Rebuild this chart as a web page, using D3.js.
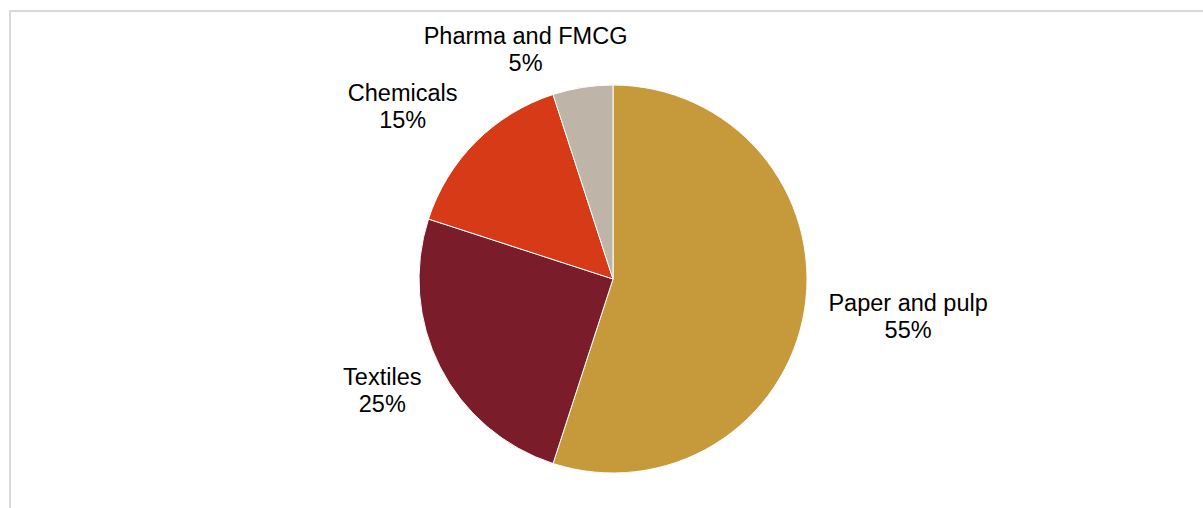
<!DOCTYPE html>
<html>
<head>
<meta charset="utf-8">
<script src="https://cdnjs.cloudflare.com/ajax/libs/d3/7.8.5/d3.min.js"></script>
<style>
  html, body { margin: 0; padding: 0; background: #fff; }
  svg { display: block; }
  text { font-family: "Liberation Sans", Arial, sans-serif; }
</style>
</head>
<body>
<script>
const categories = ["Paper and pulp", "Textiles", "Chemicals", "Pharma and FMCG"];
const values = [55, 25, 15, 5];
const colors = ["#C69A3B", "#7B1C2A", "#D63A16", "#BEB5A8"];

const W = 1203, H = 508;
const cx = 613, cy = 279, r = 194;

const svg = d3.select("body").append("svg").attr("width", W).attr("height", H);

// frame
svg.append("rect")
  .attr("x", 10).attr("y", 11)
  .attr("width", W + 20).attr("height", H + 20)
  .attr("fill", "none").attr("stroke", "#d9d9d9").attr("stroke-width", 2);

const data = categories.map((c, i) => ({ name: c, value: values[i], color: colors[i] }));
const pie = d3.pie().sort(null).value(d => d.value);
const arcs = pie(data);
const arc = d3.arc().innerRadius(0).outerRadius(r);
const labelArc = d3.arc().innerRadius(r * 1.3).outerRadius(r * 1.3);

const g = svg.append("g").attr("transform", `translate(${cx},${cy})`);
g.selectAll("path").data(arcs).join("path")
  .attr("d", arc)
  .attr("fill", d => d.data.color)
  .attr("stroke", "#ffffff")
  .attr("stroke-width", 1);

// label nudges (layout only)
const nudge = [[46, -2], [-6, -3], [-32, 6], [-48, 20]];
const fs = 23.5;
const lab = g.selectAll("text.lab").data(arcs).join("text")
  .attr("class", "lab")
  .attr("text-anchor", "middle")
  .attr("font-size", fs)
  .attr("fill", "#000");
lab.each(function(d, i) {
  const [x, y] = labelArc.centroid(d);
  const lx = x + nudge[i][0], ly = y + nudge[i][1];
  const t = d3.select(this);
  t.append("tspan").attr("x", lx).attr("y", ly - 5.5).text(d.data.name);
  t.append("tspan").attr("x", lx).attr("y", ly + 21.5).text(d.data.value + "%");
});
</script>
</body>
</html>
